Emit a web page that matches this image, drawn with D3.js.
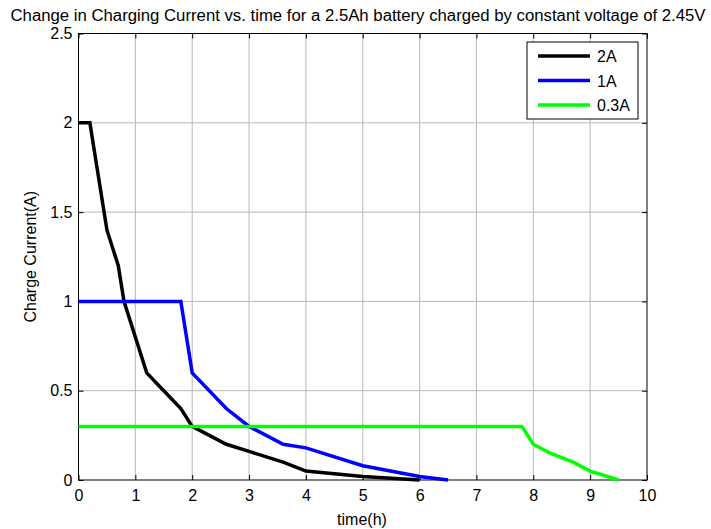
<!DOCTYPE html>
<html>
<head>
<meta charset="utf-8">
<script src="https://cdn.jsdelivr.net/npm/d3@7"></script>
<style>
  body { margin: 0; background: #fff; }
  text { font-family: "Liberation Sans", Arial, sans-serif; fill: #000; }
</style>
</head>
<body>
<div class="chart"></div>
<script>
// data
const series2A_t = [0, 0.2, 0.5, 0.7, 0.8, 1.2, 1.5, 1.8, 2, 2.6, 3, 3.6, 4, 5, 6]
const series2A_i = [2, 2, 1.4, 1.2, 1.0, 0.6, 0.5, 0.4, 0.3, 0.2, 0.16, 0.1, 0.05, 0.02, 0]
const series1A_t = [0, 1.8, 2, 2.6, 3, 3.6, 4, 5, 6, 6.5]
const series1A_i = [1, 1, 0.6, 0.4, 0.3, 0.2, 0.18, 0.08, 0.02, 0]
const series03A_t = [0, 7.8, 8, 8.3, 8.7, 9, 9.5]
const series03A_i = [0.3, 0.3, 0.2, 0.15, 0.1, 0.05, 0]
const seriesNames = ['2A', '1A', '0.3A']
const seriesColors = ['#000000', '#0000ff', '#00ff00']
const xTicks = [0, 1, 2, 3, 4, 5, 6, 7, 8, 9, 10]
const yTicks = [0, 0.5, 1, 1.5, 2, 2.5]

let width = 711
let height = 529
let fontSize = 16
const plotL = 78.5, plotR = 647, plotT = 33.5, plotB = 480

const svg = d3.select('.chart').append('svg')
  .attr('width', width)
  .attr('height', height)

const x = d3.scaleLinear().domain([0, 10]).range([plotL, plotR])
const y = d3.scaleLinear().domain([0, 2.5]).range([plotB, plotT])

// grid
svg.append('g').selectAll('line').data(xTicks.slice(1, -1)).join('line')
  .attr('x1', d => x(d)).attr('x2', d => x(d))
  .attr('y1', plotT).attr('y2', plotB)
  .attr('stroke', '#b8b8b8').attr('stroke-width', 1)
svg.append('g').selectAll('line').data(yTicks.slice(1, -1)).join('line')
  .attr('y1', d => y(d)).attr('y2', d => y(d))
  .attr('x1', plotL).attr('x2', plotR)
  .attr('stroke', '#b8b8b8').attr('stroke-width', 1)

// axes (ticks inward, on all four sides)
const tickLen = 5
svg.append('g').attr('transform', `translate(0,${plotB})`)
  .call(d3.axisBottom(x).tickValues(xTicks).tickSize(-tickLen).tickPadding(10).tickFormat(d3.format('d')))
svg.append('g').attr('transform', `translate(0,${plotT})`)
  .call(d3.axisTop(x).tickValues(xTicks).tickSize(-tickLen).tickFormat(''))
svg.append('g').attr('transform', `translate(${plotL},0)`)
  .call(d3.axisLeft(y).tickValues(yTicks).tickSize(-tickLen).tickPadding(6).tickFormat(d => d))
svg.append('g').attr('transform', `translate(${plotR},0)`)
  .call(d3.axisRight(y).tickValues(yTicks).tickSize(-tickLen).tickFormat(''))

svg.selectAll('.domain').remove()
svg.selectAll('.tick line').attr('stroke', '#000')
svg.selectAll('.tick text').attr('font-size', fontSize).attr('font-family', '"Liberation Sans", Arial, sans-serif')

svg.append('rect')
  .attr('x', plotL).attr('y', plotT)
  .attr('width', plotR - plotL).attr('height', plotB - plotT)
  .attr('fill', 'none').attr('stroke', '#000').attr('stroke-width', 1)

// lines
const data = [
  series2A_t.map((t, i) => [t, series2A_i[i]]),
  series1A_t.map((t, i) => [t, series1A_i[i]]),
  series03A_t.map((t, i) => [t, series03A_i[i]])
]
const line = d3.line().x(d => x(d[0])).y(d => y(d[1]))
svg.append('g').selectAll('path').data(data).join('path')
  .attr('d', line)
  .attr('fill', 'none')
  .attr('stroke', (d, i) => seriesColors[i])
  .attr('stroke-width', 3.5)
  .attr('stroke-linejoin', 'miter')

// titles
svg.append('text')
  .attr('x', 358).attr('y', 21)
  .attr('text-anchor', 'middle')
  .attr('font-size', fontSize)
  .attr('textLength', 695)
  .attr('lengthAdjust', 'spacingAndGlyphs')
  .text('Change in Charging Current vs. time for a 2.5Ah battery charged by constant voltage of 2.45V')
svg.append('text')
  .attr('x', 362).attr('y', 525)
  .attr('text-anchor', 'middle')
  .attr('font-size', fontSize)
  .text('time(h)')
svg.append('text')
  .attr('transform', `translate(36,${(plotT + plotB) / 2}) rotate(-90)`)
  .attr('text-anchor', 'middle')
  .attr('font-size', fontSize)
  .text('Charge Current(A)')

// legend
const lg = svg.append('g')
lg.append('rect')
  .attr('x', 527).attr('y', 42).attr('width', 111).attr('height', 77)
  .attr('fill', '#fff').attr('stroke', '#000').attr('stroke-width', 1)
seriesNames.forEach((name, i) => {
  const ly = 56 + i * 24.5
  lg.append('line')
    .attr('x1', 538).attr('x2', 590).attr('y1', ly).attr('y2', ly)
    .attr('stroke', seriesColors[i]).attr('stroke-width', 3.5)
  lg.append('text')
    .attr('x', 597).attr('y', ly + 6)
    .attr('font-size', fontSize)
    .text(name)
})
</script>
</body>
</html>
